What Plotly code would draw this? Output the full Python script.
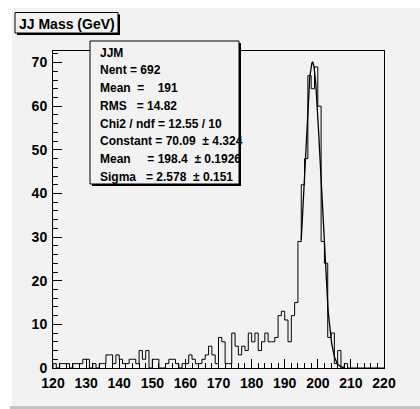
import numpy as np
import plotly.graph_objects as go

# JJ invariant mass histogram: 100 bins of 1 GeV from 120 to 220 GeV
bin_low = 120.0
bin_width = 1.0
counts = [
    1, 0, 1, 1, 1, 0, 1, 1, 1, 2,          # 120-129
    2, 0, 1, 0, 1, 1, 3, 3, 1, 3,          # 130-139
    2, 1, 1, 2, 2, 1, 4, 2, 4, 0,          # 140-149
    2, 2, 0, 0, 1, 2, 2, 1, 0, 1,          # 150-159
    1, 3, 2, 1, 1, 2, 3, 5, 3, 1,          # 160-169
    7, 6, 1, 1, 8, 5, 3, 5, 4, 8,          # 170-179
    6, 8, 4, 6, 8, 6, 6, 7, 12, 13,        # 180-189
    11, 6, 12, 15, 29, 42, 48, 67, 64, 69, # 190-199
    60, 29, 24, 7, 8, 1, 4, 0, 1, 0,       # 200-209
    0, 0, 0, 0, 0, 0, 0, 0, 0, 0,          # 210-219
]

# Gaussian fit result and fit range
fit_constant = 70.09
fit_mean = 198.4
fit_sigma = 2.578
fit_range = (195.0, 208.0)

stats_lines = [
    "JJM",
    "Nent = 692",
    "Mean  =    191",
    "RMS   = 14.82",
    "Chi2 / ndf = 12.55 / 10",
    "Constant = 70.09  \u00b1 4.324",
    "Mean     = 198.4  \u00b1 0.1926",
    "Sigma   = 2.578  \u00b1 0.151",
]
title_text = "JJ Mass (GeV)"

x_ticks = list(range(120, 221, 10))
y_ticks = list(range(0, 71, 10))

# ---- geometry of the pad (pixels) ----
W, H = 420, 409
L, R, T, B = 53, 384, 51, 368


def px(xp):
    return (xp - L) / (R - L)


def py(yp):
    return (B - yp) / (B - T)


FONT = "Liberation Sans, Arial, Helvetica, sans-serif"
BG = "#f2f2f2"

# step outline of the histogram
n = len(counts)
edges = [bin_low + i * bin_width for i in range(n + 1)]
step_x = [edges[0]] + edges[:n] + [edges[n]]
step_y = [0] + counts + [counts[-1]]

xf = np.linspace(fit_range[0], fit_range[1], 300)
yf = fit_constant * np.exp(-0.5 * ((xf - fit_mean) / fit_sigma) ** 2)

fig = go.Figure()
fig.add_trace(go.Scatter(x=step_x, y=step_y, mode="lines", line_shape="hv",
                         line=dict(color="black", width=1), hoverinfo="skip"))
fig.add_trace(go.Scatter(x=xf, y=yf, mode="lines",
                         line=dict(color="black", width=1.3), hoverinfo="skip"))

ymax = max(counts) * 1.05 + 0.2

axis_common = dict(
    showgrid=False, zeroline=False, showline=True, linecolor="black",
    linewidth=1, mirror=True, ticks="inside", ticklen=9, tickcolor="black",
    tickwidth=1,
    tickfont=dict(family=FONT, size=14, color="black", weight="bold"),
)

fig.update_xaxes(range=[edges[0], edges[-1]], tickvals=x_ticks,
                 minor=dict(dtick=2, ticks="inside", ticklen=5,
                            tickcolor="black", showgrid=False),
                 ticklabelstandoff=2, **axis_common)
fig.update_yaxes(range=[0, ymax], tickvals=y_ticks,
                 minor=dict(dtick=2, ticks="inside", ticklen=5,
                            tickcolor="black", showgrid=False),
                 ticklabelstandoff=2, **axis_common)

shapes = []
# canvas area with a darker bottom bevel
shapes.append(dict(type="rect", xref="paper", yref="paper",
                   x0=px(12), x1=px(421), y0=py(406), y1=py(8),
                   fillcolor=BG, line=dict(width=0), layer="below"))
shapes.append(dict(type="rect", xref="paper", yref="paper",
                   x0=px(10), x1=px(421), y0=py(410), y1=py(406),
                   fillcolor="#c4c4c4", line=dict(width=0), layer="below"))


def pave(x0, y0, x1, y1, shadow=2):
    out = [dict(type="rect", xref="paper", yref="paper",
                x0=px(x0 + shadow), x1=px(x1 + shadow),
                y0=py(y1 + shadow), y1=py(y0 + shadow),
                fillcolor="black", line=dict(width=0), layer="above"),
           dict(type="rect", xref="paper", yref="paper",
                x0=px(x0), x1=px(x1), y0=py(y1), y1=py(y0),
                fillcolor=BG, line=dict(color="black", width=1),
                layer="above")]
    return out


shapes += pave(15, 12.5, 118, 33)
shapes += pave(90, 41, 239, 184)

annotations = [dict(xref="paper", yref="paper", x=px(17), y=py(23.5),
                    xanchor="left", yanchor="middle", showarrow=False,
                    text=title_text.replace(" ", "\u00a0"),
                    font=dict(family=FONT, size=14, color="black",
                              weight="bold"))]
line_y0, line_dy = 52.7, 17.71
for i, s in enumerate(stats_lines):
    annotations.append(dict(xref="paper", yref="paper", x=px(98),
                            y=py(line_y0 + i * line_dy),
                            xanchor="left", yanchor="middle",
                            showarrow=False,
                            text=s.replace(" ", "\u00a0"),
                            font=dict(family=FONT, size=12, color="black",
                                      weight="bold")))

fig.update_layout(
    width=W, height=H,
    margin=dict(l=L, r=W - R, t=T, b=H - B, pad=0),
    paper_bgcolor="white", plot_bgcolor=BG,
    showlegend=False, shapes=shapes, annotations=annotations,
)

fig.write_html("out.html")
